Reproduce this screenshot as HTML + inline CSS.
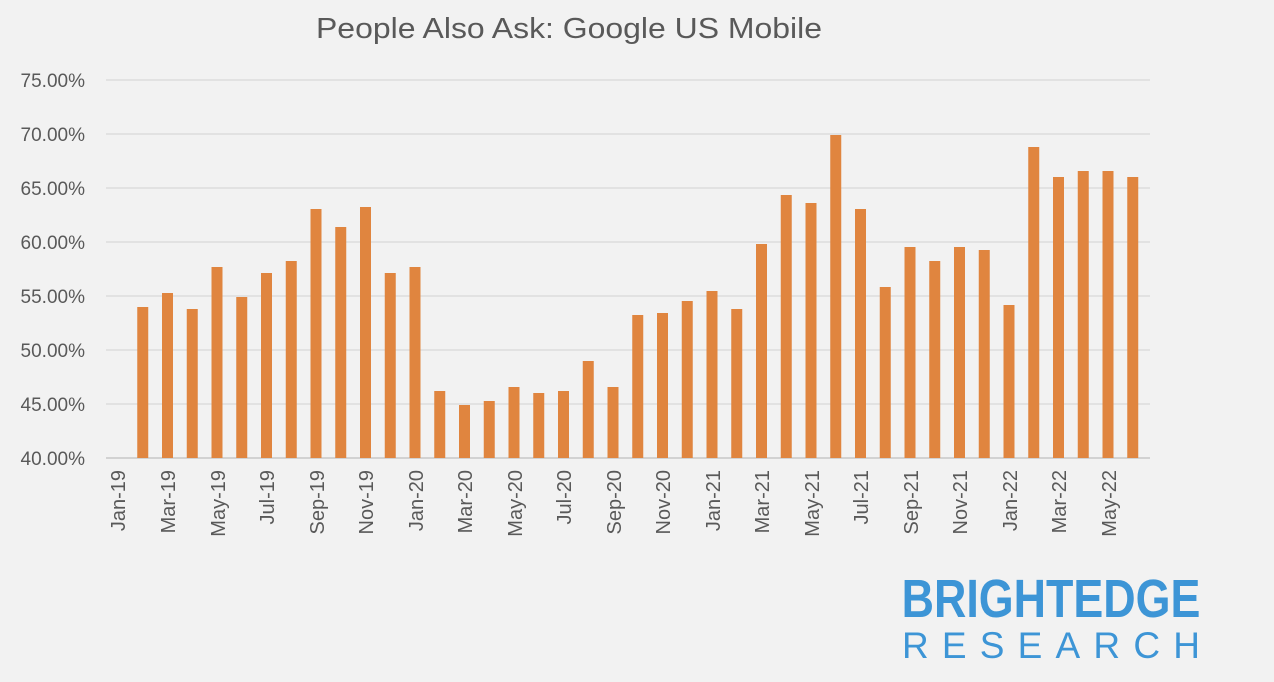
<!DOCTYPE html>
<html><head><style>
html,body{margin:0;padding:0;background:#f2f2f2;}
svg{display:block;font-family:"Liberation Sans",Arial,sans-serif;}
</style></head><body>
<svg width="1274" height="682" viewBox="0 0 1274 682" xmlns="http://www.w3.org/2000/svg">
<rect width="1274" height="682" fill="#f2f2f2"/>
<text x="316" y="38" font-size="29" fill="#595959" textLength="506" lengthAdjust="spacingAndGlyphs">People Also Ask: Google US Mobile</text>
<g stroke="#d9d9d9" stroke-width="1.3">
<line x1="106" x2="1150" y1="80" y2="80"/><line x1="106" x2="1150" y1="134" y2="134"/>
<line x1="106" x2="1150" y1="188" y2="188"/><line x1="106" x2="1150" y1="242" y2="242"/>
<line x1="106" x2="1150" y1="296" y2="296"/><line x1="106" x2="1150" y1="350" y2="350"/>
<line x1="106" x2="1150" y1="404" y2="404"/><line x1="106" x2="1150" y1="458" y2="458" stroke="#bfbfbf"/>
</g>
<g font-size="19" fill="#595959" text-anchor="end">
<text x="85" y="87">75.00%</text><text x="85" y="141">70.00%</text><text x="85" y="195">65.00%</text>
<text x="85" y="249">60.00%</text><text x="85" y="303">55.00%</text><text x="85" y="357">50.00%</text>
<text x="85" y="411">45.00%</text><text x="85" y="465">40.00%</text>
</g>
<g fill="#e0853f">
<rect x="137.25" y="307" width="11" height="151"/>
<rect x="162" y="293" width="11" height="165"/>
<rect x="186.75" y="309" width="11" height="149"/>
<rect x="211.5" y="267" width="11" height="191"/>
<rect x="236.25" y="297" width="11" height="161"/>
<rect x="261" y="273" width="11" height="185"/>
<rect x="285.75" y="261" width="11" height="197"/>
<rect x="310.5" y="209" width="11" height="249"/>
<rect x="335.25" y="227" width="11" height="231"/>
<rect x="360" y="207" width="11" height="251"/>
<rect x="384.75" y="273" width="11" height="185"/>
<rect x="409.5" y="267" width="11" height="191"/>
<rect x="434.25" y="391" width="11" height="67"/>
<rect x="459" y="405" width="11" height="53"/>
<rect x="483.75" y="401" width="11" height="57"/>
<rect x="508.5" y="387" width="11" height="71"/>
<rect x="533.25" y="393" width="11" height="65"/>
<rect x="558" y="391" width="11" height="67"/>
<rect x="582.75" y="361" width="11" height="97"/>
<rect x="607.5" y="387" width="11" height="71"/>
<rect x="632.25" y="315" width="11" height="143"/>
<rect x="657" y="313" width="11" height="145"/>
<rect x="681.75" y="301" width="11" height="157"/>
<rect x="706.5" y="291" width="11" height="167"/>
<rect x="731.25" y="309" width="11" height="149"/>
<rect x="756" y="244" width="11" height="214"/>
<rect x="780.75" y="195" width="11" height="263"/>
<rect x="805.5" y="203" width="11" height="255"/>
<rect x="830.25" y="135" width="11" height="323"/>
<rect x="855" y="209" width="11" height="249"/>
<rect x="879.75" y="287" width="11" height="171"/>
<rect x="904.5" y="247" width="11" height="211"/>
<rect x="929.25" y="261" width="11" height="197"/>
<rect x="954" y="247" width="11" height="211"/>
<rect x="978.75" y="250" width="11" height="208"/>
<rect x="1003.5" y="305" width="11" height="153"/>
<rect x="1028.25" y="147" width="11" height="311"/>
<rect x="1053" y="177" width="11" height="281"/>
<rect x="1077.75" y="171" width="11" height="287"/>
<rect x="1102.5" y="171" width="11" height="287"/>
<rect x="1127.25" y="177" width="11" height="281"/>
</g>
<g font-size="20" fill="#595959" text-anchor="end">
<text transform="translate(125,470) rotate(-90)">Jan-19</text>
<text transform="translate(175,470) rotate(-90)">Mar-19</text>
<text transform="translate(225,470) rotate(-90)">May-19</text>
<text transform="translate(274,470) rotate(-90)">Jul-19</text>
<text transform="translate(324,470) rotate(-90)">Sep-19</text>
<text transform="translate(373,470) rotate(-90)">Nov-19</text>
<text transform="translate(423,470) rotate(-90)">Jan-20</text>
<text transform="translate(472,470) rotate(-90)">Mar-20</text>
<text transform="translate(522,470) rotate(-90)">May-20</text>
<text transform="translate(571,470) rotate(-90)">Jul-20</text>
<text transform="translate(621,470) rotate(-90)">Sep-20</text>
<text transform="translate(670,470) rotate(-90)">Nov-20</text>
<text transform="translate(720,470) rotate(-90)">Jan-21</text>
<text transform="translate(769,470) rotate(-90)">Mar-21</text>
<text transform="translate(819,470) rotate(-90)">May-21</text>
<text transform="translate(868,470) rotate(-90)">Jul-21</text>
<text transform="translate(918,470) rotate(-90)">Sep-21</text>
<text transform="translate(967,470) rotate(-90)">Nov-21</text>
<text transform="translate(1017,470) rotate(-90)">Jan-22</text>
<text transform="translate(1066,470) rotate(-90)">Mar-22</text>
<text transform="translate(1116,470) rotate(-90)">May-22</text>
</g>
<text x="1051" y="617" text-anchor="middle" font-size="54" font-weight="bold" fill="#3d95d6" transform="translate(1051,0) scale(0.83,1) translate(-1051,0)">BRIGHTEDGE</text>
<text x="902" y="658" font-size="37" fill="#3d95d6" textLength="298" lengthAdjust="spacing">RESEARCH</text>
</svg>
</body></html>
